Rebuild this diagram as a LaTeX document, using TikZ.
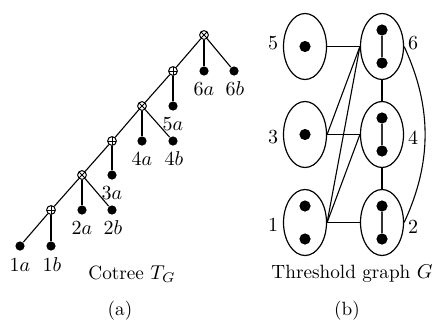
\documentclass[tikz,border=0pt]{standalone}
\usetikzlibrary{shapes.geometric}
\begin{document}
\begin{tikzpicture}[x=0.5pt,y=-0.5pt,line width=0.55pt,
  op/.style={circle,draw,inner sep=0pt,minimum size=4.4pt,line width=0.5pt},
  otimesnode/.style={op,path picture={\draw[line width=0.4pt] (path picture bounding box.north west) -- (path picture bounding box.south east) (path picture bounding box.north east) -- (path picture bounding box.south west);}},
  oplusnode/.style={op,path picture={\draw[line width=0.4pt] (path picture bounding box.north) -- (path picture bounding box.south) (path picture bounding box.west) -- (path picture bounding box.east);}},
  leaf/.style={circle,fill,inner sep=0pt,minimum size=4.6pt},
  lbl/.style={inner sep=0pt,font=\fontsize{10}{12}\selectfont},
  ell/.style={ellipse,draw,inner sep=0pt,minimum width=21.5pt,minimum height=33pt,line width=0.6pt},
  gdot/.style={circle,fill,inner sep=0pt,minimum size=5.6pt},
  innerline/.style={draw=black!80,line width=0.6pt},
  captext/.style={inner sep=0pt,font=\fontsize{9.6}{12}\selectfont}]
\useasboundingbox (0,0) rectangle (437,322);
% ---- cotree ----
\node[otimesnode] (r1) at (204,35) {};
\node[oplusnode] (p1) at (173,71) {};
\node[leaf] (x6a) at (204,71) {};
\node[leaf] (x6b) at (234,71) {};
\node[otimesnode] (r2) at (142,106) {};
\node[leaf] (x5a) at (173,106) {};
\node[oplusnode] (p2) at (112,141) {};
\node[leaf] (x4a) at (142,141) {};
\node[leaf] (x4b) at (173,141) {};
\node[otimesnode] (r3) at (82,175) {};
\node[leaf] (x3a) at (112,175) {};
\node[oplusnode] (p3) at (51,210) {};
\node[leaf] (x2a) at (82,210) {};
\node[leaf] (x2b) at (112,210) {};
\node[leaf] (x1a) at (20,246) {};
\node[leaf] (x1b) at (51,246) {};
\draw (r1) -- (p1); \draw (r1) -- (x6a); \draw (r1) -- (x6b);
\draw (p1) -- (r2); \draw (p1) -- (x5a);
\draw (r2) -- (p2); \draw (r2) -- (x4a); \draw (r2) -- (x4b);
\draw (p2) -- (r3); \draw (p2) -- (x3a);
\draw (r3) -- (p3); \draw (r3) -- (x2a); \draw (r3) -- (x2b);
\draw (p3) -- (x1a); \draw (p3) -- (x1b);
\node[lbl] (t6a) at (204,89) {6$a$};
\node[lbl] (t6b) at (235,89) {6$b$};
\node[lbl] (t5a) at (173,124) {5$a$};
\node[lbl] (t4a) at (142,159) {4$a$};
\node[lbl] (t4b) at (174,159) {4$b$};
\node[lbl] (t3a) at (112,193) {3$a$};
\node[lbl] (t2a) at (82,228) {2$a$};
\node[lbl] (t2b) at (113,228) {2$b$};
\node[lbl] (t1a) at (20,265) {1$a$};
\node[lbl] (t1b) at (52,265) {1$b$};
\node[captext] (capa) at (132,274) {Cotree $T_G$};
\node[captext] (suba) at (120,311) {(a)};
% ---- threshold graph ----
\node[ell] (e5) at (305,46.5) {};
\node[ell] (e3) at (305,134.5) {};
\node[ell] (e1) at (305,222.5) {};
\node[ell] (e6) at (382,46.5) {};
\node[ell] (e4) at (382,134.5) {};
\node[ell] (e2) at (382,222.5) {};
\node[gdot] (d5) at (305,46.5) {};
\node[gdot] (d3) at (305,134.5) {};
\node[gdot] (d1a) at (305,206) {};
\node[gdot] (d1b) at (305,239) {};
\node[gdot] (d6a) at (382,30) {};
\node[gdot] (d6b) at (382,63) {};
\node[gdot] (d4a) at (382,118) {};
\node[gdot] (d4b) at (382,151) {};
\node[gdot] (d2a) at (382,206) {};
\node[gdot] (d2b) at (382,239) {};
\draw[innerline] (d6a) -- (d6b);
\draw[innerline] (d4a) -- (d4b);
\draw[innerline] (d2a) -- (d2b);
\draw (e5.east) -- (e6.west);
\draw (e3.east) -- (e6.west);
\draw (e3.east) -- (e4.west);
\draw (e1.east) -- (e6.west);
\draw (e1.east) -- (e4.west);
\draw (e1.east) -- (e2.west);
\draw (e6) -- (e4);
\draw (e4) -- (e2);
\draw (e6.east) .. controls +(28,60) and +(28,-60) .. (e2.east);
\node[lbl] (l5) at (273,43) {5};
\node[lbl] (l3) at (273,137) {3};
\node[lbl] (l1) at (273,225) {1};
\node[lbl] (l6) at (413,43) {6};
\node[lbl] (l4) at (413,138) {4};
\node[lbl] (l2) at (413,227) {2};
\node[captext] (capb) at (352,274) {Threshold graph $G$};
\node[captext] (subb) at (347,311) {(b)};
\end{tikzpicture}
\end{document}
